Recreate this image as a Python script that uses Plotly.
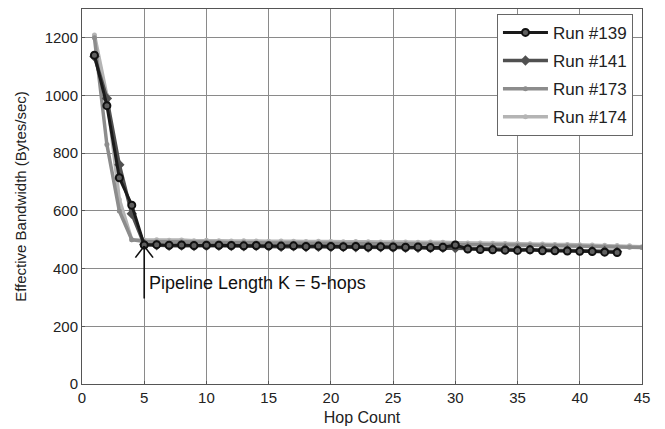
import plotly.graph_objects as go

hops_139 = list(range(1, 44))
run_139 = [1140, 965, 715, 620, 482, 483, 481, 482, 480, 481, 481, 480, 479, 480, 479,
           478, 479, 477, 478, 477, 476, 477, 475, 476, 475, 474, 475, 473, 474, 482,
           468, 466, 465, 464, 463, 465, 462, 462, 461, 460, 459, 457, 456]
hops_141 = list(range(1, 44))
run_141 = [1135, 990, 760, 590, 484, 481, 479, 480, 478, 479, 479, 478, 477, 478, 477,
           476, 477, 475, 476, 475, 475, 474, 473, 474, 473, 472, 472, 471, 472, 471,
           470, 469, 468, 468, 467, 466, 465, 464, 464, 463, 462, 461, 459]
hops_173 = list(range(1, 46))
run_173 = [1200, 830, 600, 500, 494, 493, 492, 493, 491, 492, 491, 490, 491, 490, 489,
           490, 489, 488, 489, 488, 487, 488, 487, 486, 487, 486, 485, 486, 485, 484,
           484, 483, 482, 482, 481, 481, 480, 479, 479, 478, 477, 476, 475, 474, 473]
hops_174 = list(range(1, 46))
run_174 = [1210, 1000, 640, 500, 499, 500, 498, 499, 497, 498, 497, 496, 497, 496, 495,
           496, 495, 494, 495, 494, 493, 494, 493, 492, 493, 492, 491, 492, 491, 490,
           489, 489, 488, 487, 487, 486, 485, 484, 484, 483, 482, 481, 480, 479, 476]

x_ticks = [0, 5, 10, 15, 20, 25, 30, 35, 40, 45]
y_ticks = [0, 200, 400, 600, 800, 1000, 1200]

fig = go.Figure()
fig.add_trace(go.Scatter(x=hops_174, y=run_174, name="Run #174", mode="lines+markers",
                         legendrank=4, legendgroup="g4",
                         line=dict(color="#b4b4b4", width=3.5),
                         marker=dict(symbol="circle", size=5, color="#b4b4b4")))
fig.add_trace(go.Scatter(x=hops_173, y=run_173, name="Run #173", mode="lines+markers",
                         legendrank=3, legendgroup="g3",
                         line=dict(color="#8c8c8c", width=3.5),
                         marker=dict(symbol="circle", size=5, color="#8c8c8c")))
fig.add_trace(go.Scatter(x=hops_141, y=run_141, name="Run #141", mode="lines+markers",
                         legendrank=2, legendgroup="g2",
                         line=dict(color="#505050", width=3.5),
                         marker=dict(symbol="diamond", size=8, color="#505050")))
fig.add_trace(go.Scatter(x=hops_139, y=run_139, name="Run #139", mode="lines+markers",
                         legendrank=1, legendgroup="g1",
                         line=dict(color="#1a1a1a", width=3),
                         marker=dict(symbol="circle", size=7, color="#606060",
                                     line=dict(color="#111111", width=2))))

# arrow: shaft and open chevron head
arrow_kw = dict(x=5, y=478, xref="x", yref="y", axref="pixel", ayref="pixel",
                showarrow=True, arrowhead=0, arrowwidth=1.6, arrowcolor="#111111",
                standoff=0, startstandoff=0, text="")
fig.add_annotation(ax=0, ay=54, **arrow_kw)
fig.add_annotation(ax=-10, ay=13, **arrow_kw)
fig.add_annotation(ax=10, ay=13, **arrow_kw)
fig.add_annotation(x=5.2, y=350, xref="x", yref="y", text="Pipeline Length K = 5-hops",
                   showarrow=False, xanchor="left", yanchor="middle",
                   font=dict(size=18, color="#111111"))

axis_common = dict(showgrid=True, gridcolor="#8a8a8a", gridwidth=1, showline=True,
                   linecolor="#555555", linewidth=1, mirror=True, zeroline=False,
                   ticks="inside", ticklen=3, tickcolor="#555555", automargin=False,
                   tickfont=dict(size=15, color="#222222"))
fig.update_xaxes(range=[0, 45], tickvals=x_ticks,
                 title=dict(text="Hop Count", font=dict(size=16, color="#222222"), standoff=6),
                 **axis_common)
fig.update_yaxes(range=[0, 1300], tickvals=y_ticks,
                 title=dict(text="Effective Bandwidth (Bytes/sec)", font=dict(size=15, color="#222222"), standoff=14),
                 **axis_common)

fig.update_layout(
    width=665, height=429,
    margin=dict(l=82, r=23, t=9, b=45),
    paper_bgcolor="white", plot_bgcolor="white",
    font=dict(family="Liberation Sans, Arial, sans-serif", color="#222222"),
    showlegend=True,
    legend=dict(x=0.741, y=0.987, xanchor="left", yanchor="top",
                bgcolor="white", bordercolor="#666666", borderwidth=1,
                traceorder="grouped", font=dict(size=17, color="#222222"),
                itemwidth=45, tracegroupgap=3),
)

fig.write_html("out.html")
